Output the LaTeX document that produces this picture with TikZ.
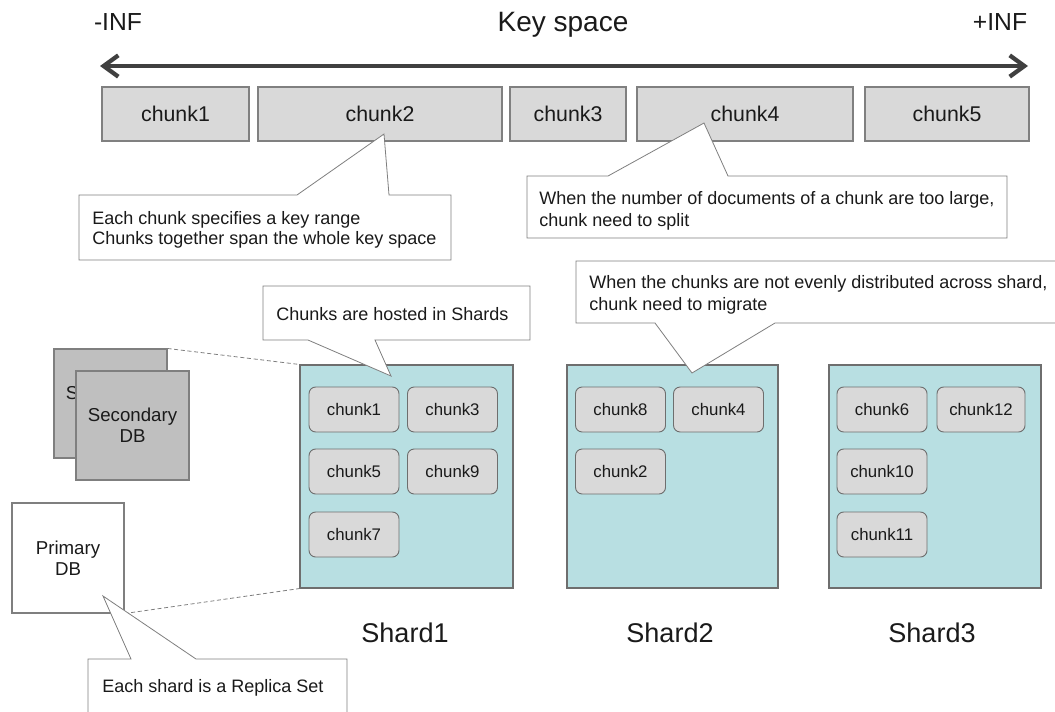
\documentclass[tikz,border=0pt]{standalone}
\usepackage{fontspec}
\setmainfont{Liberation Sans}
\usetikzlibrary{arrows.meta}

\definecolor{chunkfill}{HTML}{D9D9D9}
\definecolor{chunkline}{HTML}{808080}
\definecolor{shardfill}{HTML}{B8DFE2}
\definecolor{shardline}{HTML}{6E6E6E}
\definecolor{secfill}{HTML}{BFBFBF}
\definecolor{secline}{HTML}{7F7F7F}
\definecolor{calloutline}{HTML}{7F7F7F}
\definecolor{axis}{HTML}{404040}
\definecolor{ink}{HTML}{1A1A1A}

\begin{document}
\begin{tikzpicture}[x=0.75pt,y=-0.75pt,
  every node/.style={text=ink},
  size/.style args={#1x#2}{minimum width=#1*0.75pt,minimum height=#2*0.75pt},
  keychunk/.style={draw=chunkline,fill=chunkfill,line width=0.8pt,inner sep=0pt,
    font=\fontsize{16}{19}\selectfont},
  shardbox/.style={draw=shardline,fill=shardfill,line width=0.8pt,inner sep=0pt},
  shardchunk/.style={draw=shardline,fill=chunkfill,line width=0.7pt,rounded corners=5pt,
    inner sep=0pt,size=90x45,font=\fontsize{12.6}{15}\selectfont},
  dbbox/.style={draw=secline,line width=0.8pt,inner sep=0pt,align=center,
    font=\fontsize{14}{16}\selectfont},
  callout/.style={draw=calloutline,fill=white,line width=0.6pt,line join=miter},
  callouttext/.style={anchor=west,inner sep=0pt,align=left,
    font=\fontsize{13.5}{16.5}\selectfont},
  replica/.style={draw=secline,line width=0.6pt,dash pattern=on 3pt off 2pt},
  keyarrow/.style={draw=axis,line width=3.2pt,
    {Straight Barb[length=11pt,width=16pt]}-{Straight Barb[length=11pt,width=16pt]}},
  shardlabel/.style={font=\fontsize{20.3}{24}\selectfont},
]
\useasboundingbox (0,0) rectangle (1055,711);

% ---------- key space axis ----------
\coordinate (neginf) at (100,66);
\coordinate (posinf) at (1028,66);
\draw[keyarrow] (neginf) -- (posinf);
\node[font=\fontsize{18.5}{22}\selectfont] (ninflabel) at (118,22) {-INF};
\node[font=\fontsize{21}{25}\selectfont] (keyspace) at (563,25) {Key space};
\node[font=\fontsize{18.5}{22}\selectfont] (pinflabel) at (1000,22) {+INF};

\node[keychunk,size=147x54] (k1) at (175.5,114) {chunk1};
\node[keychunk,size=244x54] (k2) at (380,114) {chunk2};
\node[keychunk,size=116x54] (k3) at (568,114) {chunk3};
\node[keychunk,size=216x54] (k4) at (745,114) {chunk4};
\node[keychunk,size=164x54] (k5) at (947,114) {chunk5};

% ---------- shards ----------
\node[shardbox,size=213x223] (s1) at (406.5,476.5) {};
\node[shardbox,size=211x223] (s2) at (672.5,476.5) {};
\node[shardbox,size=212x223] (s3) at (935,476.5) {};

\node[shardchunk] (s1c1) at (354,409.5) {chunk1};
\node[shardchunk] (s1c3) at (452.5,409.5) {chunk3};
\node[shardchunk] (s1c5) at (354,471.5) {chunk5};
\node[shardchunk] (s1c9) at (452.5,471.5) {chunk9};
\node[shardchunk] (s1c7) at (354,534.5) {chunk7};

\node[shardchunk] (s2c8) at (620.5,409.5) {chunk8};
\node[shardchunk] (s2c4) at (718.5,409.5) {chunk4};
\node[shardchunk] (s2c2) at (620.5,471.5) {chunk2};

\node[shardchunk] (s3c6) at (882,409.5) {chunk6};
\node[shardchunk,size=88x45] (s3c12) at (981,409.5) {chunk12};
\node[shardchunk] (s3c10) at (882,471.5) {chunk10};
\node[shardchunk] (s3c11) at (882,534.5) {chunk11};

\node[shardlabel] (s1label) at (405,633) {Shard1};
\node[shardlabel] (s2label) at (670,633) {Shard2};
\node[shardlabel] (s3label) at (932,633) {Shard3};

% ---------- replica set ----------
\node[dbbox,fill=secfill,size=113x109] (secback) at (110.5,403.5) {Secondary\\DB};
\node[dbbox,fill=secfill,size=113x109] (secfront) at (132.5,425.5) {Secondary\\DB};
\node[dbbox,fill=white,size=112x110] (primary) at (68,558) {Primary\\DB};

\draw[replica] (secback.north east) -- (s1.north west);
\draw[replica] (primary.south east) -- (s1.south west);

% ---------- callouts ----------
\draw[callout] (79,195) -- (297,195) -- (384,134) -- (389,195) -- (451,195)
  -- (451,260) -- (79,260) -- cycle;
\node[callouttext,font=\fontsize{13.5}{14.5}\selectfont] (note1) at (92,230)
  {Each chunk specifies a key range\\Chunks together span the whole key space};

\draw[callout] (527,176) -- (608,176) -- (704,123) -- (728,176) -- (1007,176)
  -- (1007,238) -- (527,238) -- cycle;
\node[callouttext] (note2) at (539,211)
  {When the number of documents of a chunk are too large,\\chunk need to split};

\begin{scope}
  \clip (0,0) rectangle (1055,711);
  \draw[callout] (576,261) -- (1070,261) -- (1070,323) -- (775,323) -- (692,373)
    -- (655,323) -- (576,323) -- cycle;
  \draw[callout] (88,659) -- (131,659) -- (103,596) -- (196,659) -- (347,659)
    -- (347,725) -- (88,725) -- cycle;
\end{scope}
\node[callouttext] (note3) at (589,294.5)
  {When the chunks are not evenly distributed across shard,\\chunk need to migrate};
\node[callouttext] (note5) at (102,688)
  {Each shard is a Replica Set};

\draw[callout] (263,286) -- (530,286) -- (530,340) -- (375,340) -- (391,376)
  -- (308,340) -- (263,340) -- cycle;
\node[callouttext] (note4) at (276,314)
  {Chunks are hosted in Shards};
\end{tikzpicture}
\end{document}
